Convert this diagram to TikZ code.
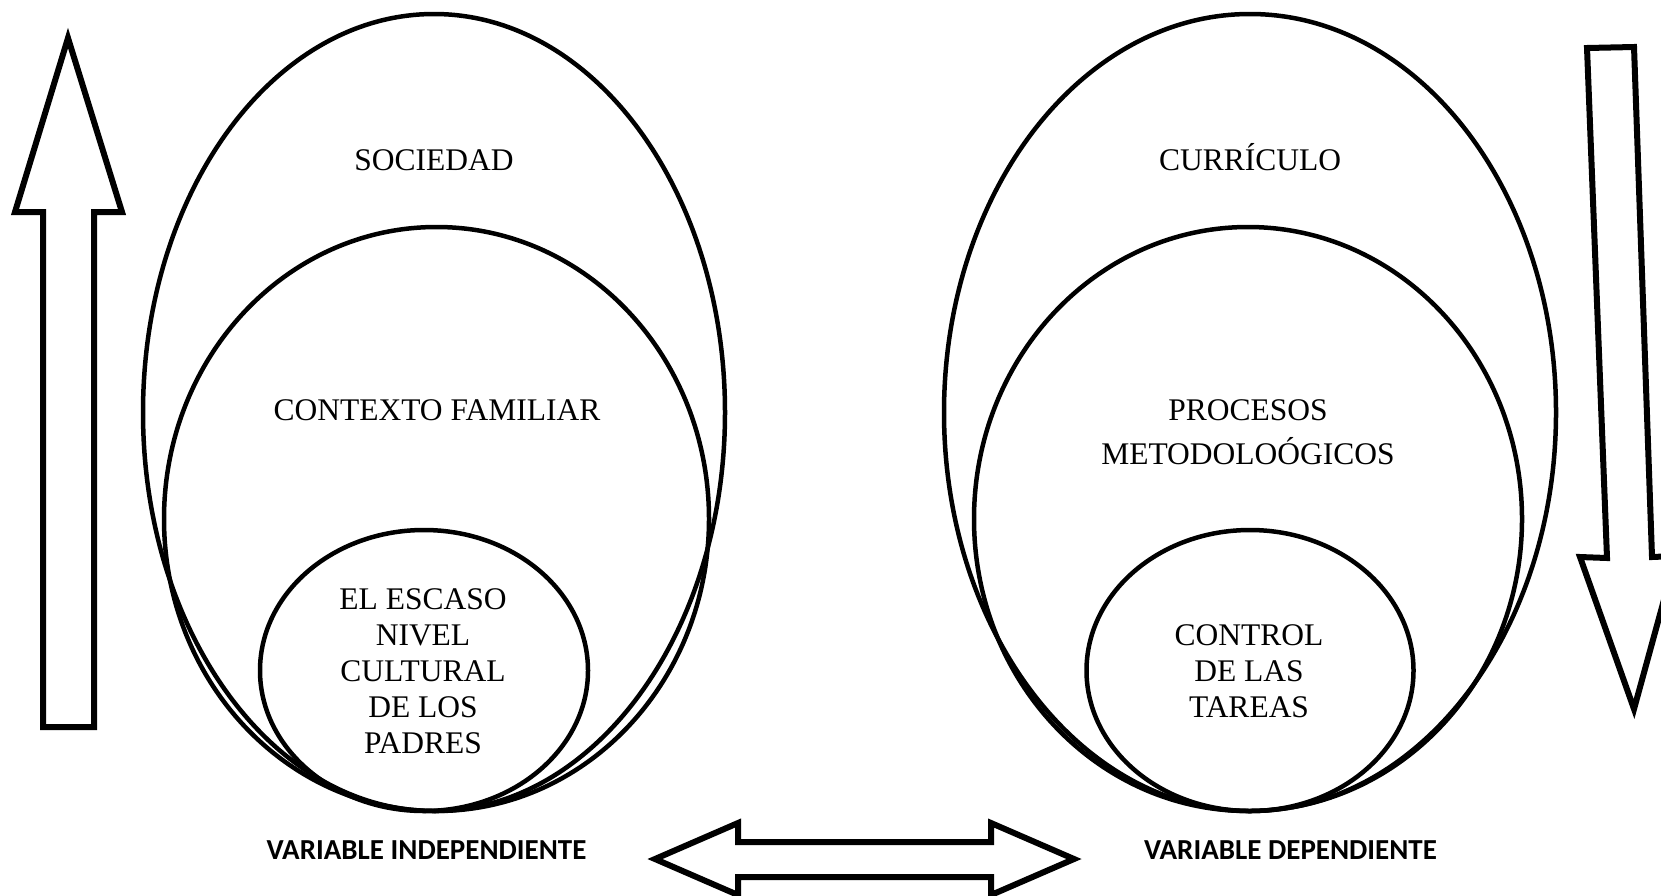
\documentclass[tikz,border=0pt]{standalone}
\usepackage{fontspec}
\setmainfont{Liberation Serif}
\newfontfamily\labelfont{Carlito}
\begin{document}
\begin{tikzpicture}[x=1pt,y=-1pt,
  ring/.style={draw=black,line width=4.5pt},
  blockarrow/.style={draw=black,line width=6pt,line join=miter,fill=white},
  lbl/.style={font=\fontsize{31.5}{36}\selectfont,align=center,inner sep=0pt},
  varlbl/.style={font=\labelfont\bfseries\fontsize{29}{34}\selectfont,inner sep=0pt}]
\useasboundingbox (0,0) rectangle (1661,895);
\fill[white] (0,0) rectangle (1661,895);
\clip (0,0) rectangle (1661,895);

% left group
\draw[ring] (434,412.5) ellipse [x radius=291pt,y radius=398.5pt];
\draw[ring] (436.5,519) ellipse [x radius=272.5pt,y radius=292pt];
\draw[ring] (424,670.5) ellipse [x radius=164pt,y radius=140.5pt];
\node[lbl] (soc) at (434,160) {SOCIEDAD};
\node[lbl] (ctx) at (437,410) {CONTEXTO FAMILIAR};
\node[lbl] (esc) at (423,671) {EL ESCASO\\NIVEL\\CULTURAL\\DE LOS\\PADRES};

% right group
\draw[ring] (1250,412.5) ellipse [x radius=306pt,y radius=398.5pt];
\draw[ring] (1248,519) ellipse [x radius=274pt,y radius=292pt];
\draw[ring] (1250,670.5) ellipse [x radius=163.5pt,y radius=140.5pt];
\node[lbl,anchor=base] (cur) at (1250,170.4) {CURRÍCULO};
\node[lbl,font=\fontsize{31.5}{44}\selectfont] (pro) at (1248,432) {PROCESOS\\METODOLOÓGICOS};
\node[lbl] (ctl) at (1249,671) {CONTROL\\DE LAS\\TAREAS};

% variable labels
\node[varlbl] (vi) at (426.5,850.5) {VARIABLE INDEPENDIENTE};
\node[varlbl] (vd) at (1290.5,850.5) {VARIABLE DEPENDIENTE};

% up arrow (left)
\draw[blockarrow] (68,38) -- (122,212) -- (94,212) -- (94,727) -- (43,727) -- (43,212) -- (15,212) -- cycle;
% down arrow (right)
\draw[blockarrow] (1587,48) -- (1634,47) -- (1652,557) -- (1676,556) -- (1634,709) -- (1580,557) -- (1607,558) -- cycle;
% double arrow (bottom)
\draw[blockarrow] (655,859) -- (738,823) -- (738,842) -- (991,842) -- (991,823) -- (1074,859) -- (991,895) -- (991,877) -- (738,877) -- (738,895) -- cycle;
\end{tikzpicture}
\end{document}
